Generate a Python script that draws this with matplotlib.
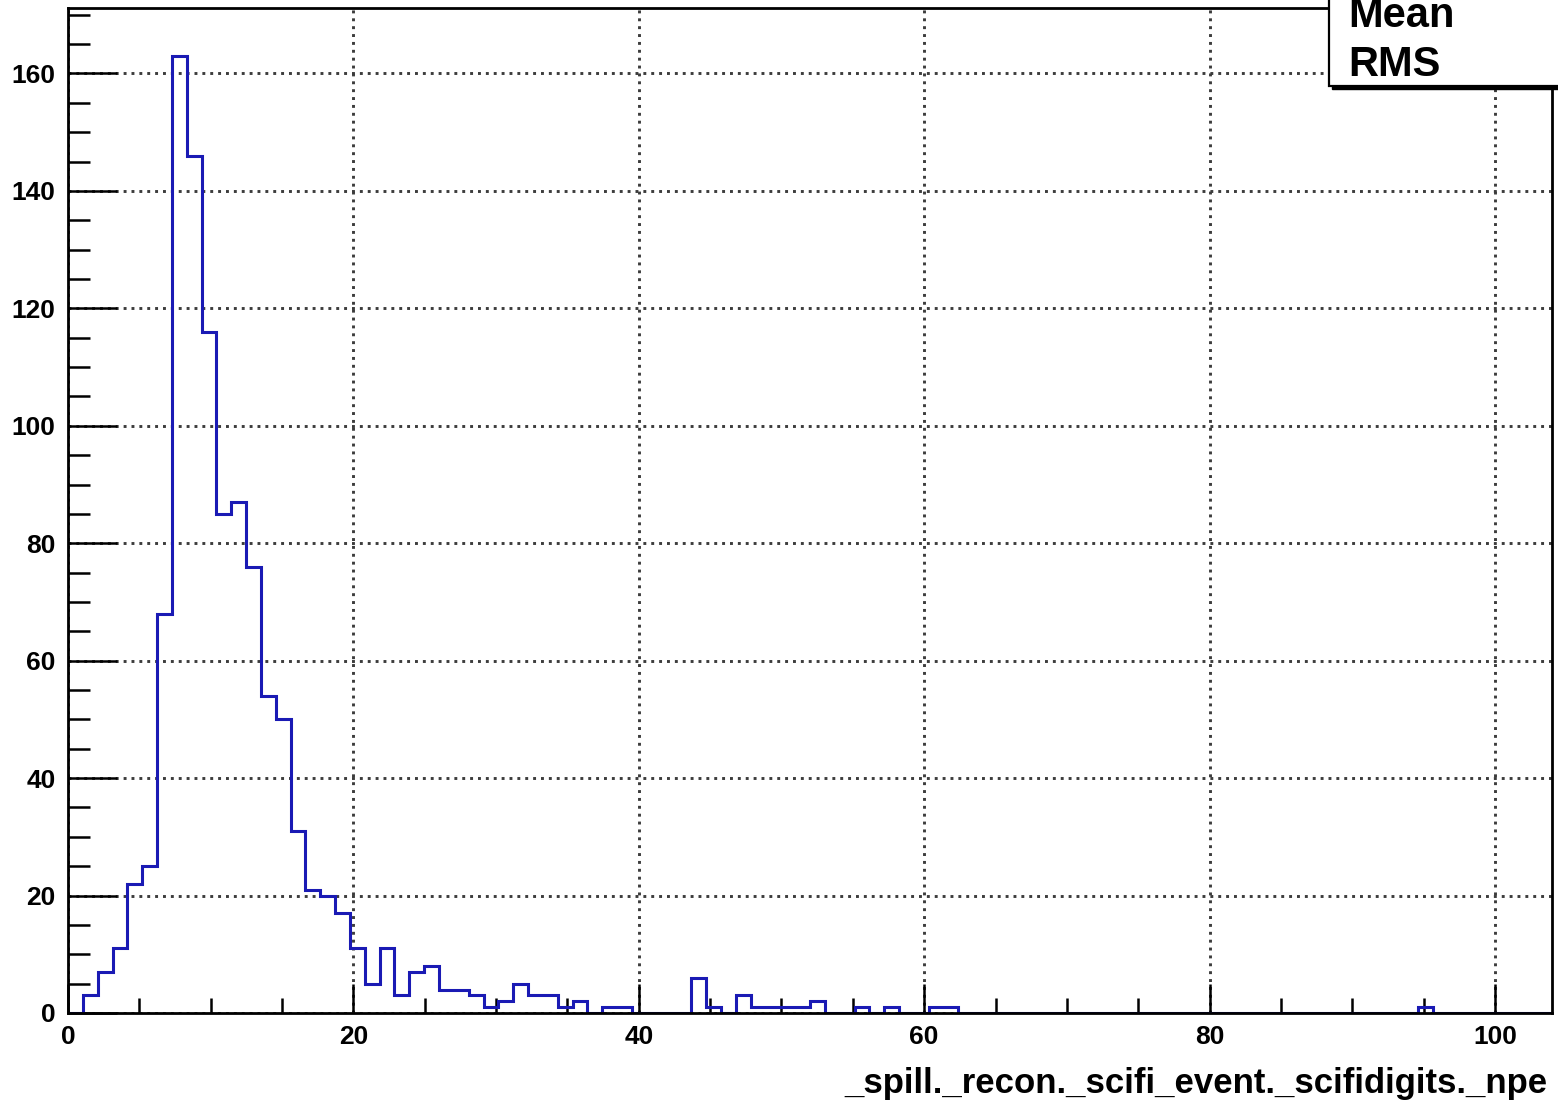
import numpy as np
import matplotlib
matplotlib.use("Agg")
import matplotlib.pyplot as plt
from matplotlib.patches import Rectangle
from matplotlib.ticker import MultipleLocator

# Histogram of scifi digit photo-electron counts: 100 bins over [0, 104]
x_min, x_max, n_bins = 0.0, 104.0, 100
counts = [
    0, 3, 7, 11, 22, 25, 68, 163, 146, 116,
    85, 87, 76, 54, 50, 31, 21, 20, 17, 11,
    5, 11, 3, 7, 8, 4, 4, 3, 1, 2,
    5, 3, 3, 1, 2, 0, 1, 1, 0, 0,
    0, 0, 6, 1, 0, 3, 1, 1, 1, 1,
    2, 0, 0, 1, 0, 1, 0, 0, 1, 1,
    0, 0, 0, 0, 0, 0, 0, 0, 0, 0,
    0, 0, 0, 0, 0, 0, 0, 0, 0, 0,
    0, 0, 0, 0, 0, 0, 0, 0, 0, 0,
    0, 1, 0, 0, 0, 0, 0, 0, 0, 0,
]
x_ticks = [0, 20, 40, 60, 80, 100]
y_ticks = [0, 20, 40, 60, 80, 100, 120, 140, 160]
x_title = "_spill._recon._scifi_event._scifidigits._npe"
stat_names = ["Mean", "RMS"]

W, H, DPI = 1558, 1105, 100
plt.rcParams["font.family"] = ["Liberation Sans", "DejaVu Sans"]
plt.rcParams["font.weight"] = "bold"

fig = plt.figure(figsize=(W / DPI, H / DPI), dpi=DPI)
fig.patch.set_facecolor("white")

left, right, top, bottom = 68, 1552, 8, 1013
ax = fig.add_axes([left / W, 1 - bottom / H, (right - left) / W, (bottom - top) / H])

edges = np.linspace(x_min, x_max, n_bins + 1)
values = np.asarray(counts, dtype=float)
ax.stairs(values, edges, color="#1a1ab4", linewidth=2.2, zorder=2)

ax.set_xlim(x_min, x_max)
ax.set_ylim(0, values.max() * 1.05)

ax.set_xticks(x_ticks)
ax.set_yticks(y_ticks)
ax.xaxis.set_minor_locator(MultipleLocator(5))
ax.yaxis.set_minor_locator(MultipleLocator(5))

ax.grid(True, which="major", color="#3c3c3c", linestyle=(0, (1, 1.7)),
        linewidth=2.1, dash_capstyle="butt", zorder=1)
ax.set_axisbelow(True)

ax.tick_params(axis="both", which="both", direction="in", colors="black",
               width=1.8, labelsize=19, top=False, right=False)
ax.tick_params(axis="x", which="major", length=21, pad=9)
ax.tick_params(axis="x", which="minor", length=10.5)
ax.tick_params(axis="y", which="major", length=35, pad=9)
ax.tick_params(axis="y", which="minor", length=15.5)
for lab in ax.get_xticklabels() + ax.get_yticklabels():
    lab.set_fontweight("bold")

for s in ax.spines.values():
    s.set_linewidth(2.0)
    s.set_color("black")
    s.set_zorder(3)

fig.text(1548 / W, 1 - 1083 / H, x_title, ha="right", va="center",
         fontsize=25, fontweight="bold")

# Statistics box in the top-right corner (runs past the canvas edges)
bx0, by0 = 1329, 86
box_w, box_h = 400, 200
shadow = Rectangle(((bx0 + 3) / W, 1 - (by0 + 3) / H), box_w / W, box_h / H,
                   transform=fig.transFigure, facecolor="black", edgecolor="black",
                   zorder=5)
box = Rectangle((bx0 / W, 1 - by0 / H), box_w / W, box_h / H,
                transform=fig.transFigure, facecolor="white", edgecolor="black",
                linewidth=1.6, zorder=6)
fig.add_artist(shadow)
fig.add_artist(box)
for name, base in zip(stat_names, [27, 76]):
    fig.text(1348 / W, 1 - base / H, name, ha="left", va="baseline",
             fontsize=30, fontweight="bold", zorder=7)

fig.savefig("out.png", dpi=DPI, facecolor="white")
